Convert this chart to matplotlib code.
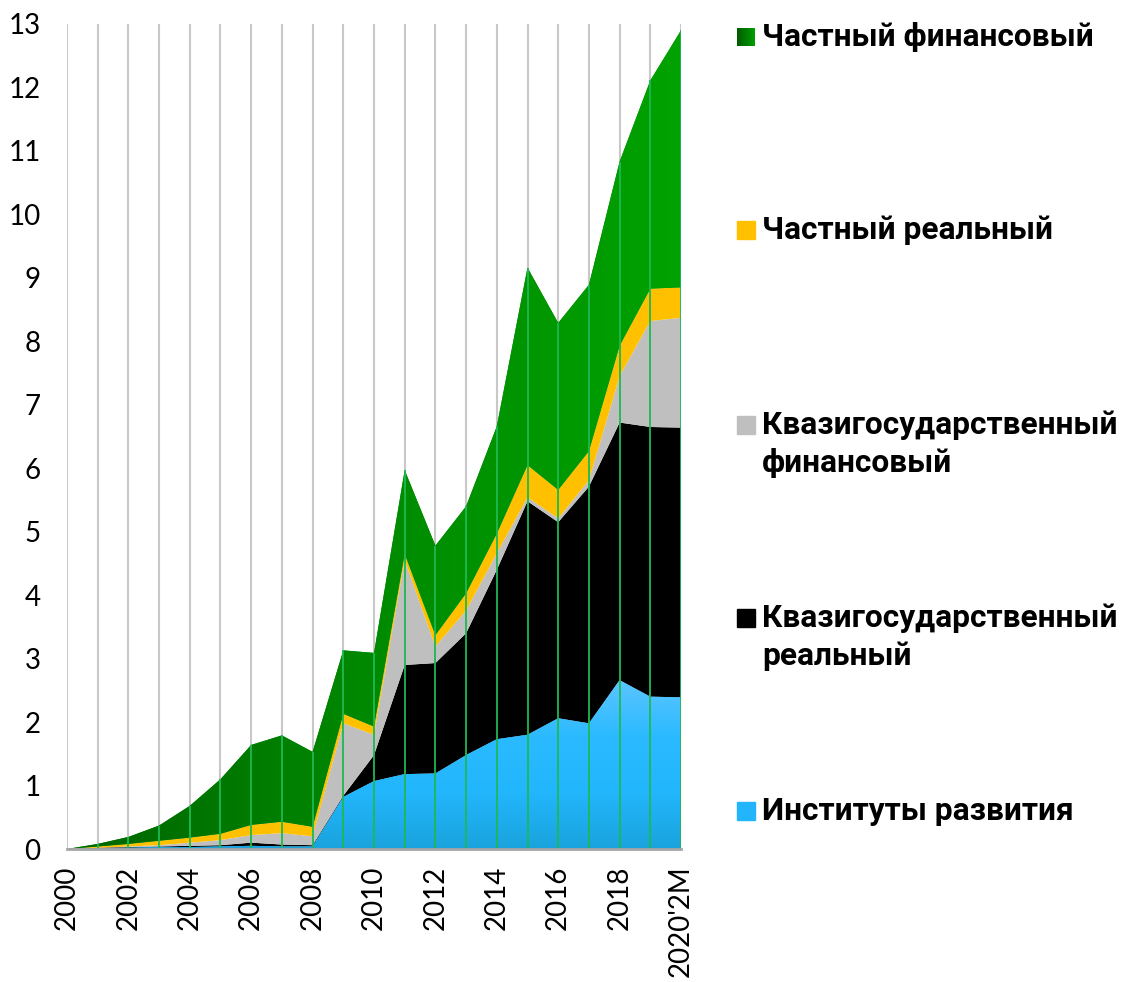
import numpy as np
import matplotlib
matplotlib.use("Agg")
import matplotlib.pyplot as plt
from matplotlib.colors import LinearSegmentedColormap

# data (bn)
years = ["2000", "2001", "2002", "2003", "2004", "2005", "2006", "2007", "2008", "2009",
         "2010", "2011", "2012", "2013", "2014", "2015", "2016", "2017", "2018", "2019",
         "2020'2M"]
instituty = [0, 0.01, 0.02, 0.03, 0.03, 0.04, 0.05, 0.04, 0.04, 0.82, 1.07, 1.18, 1.19,
             1.48, 1.73, 1.80, 2.06, 1.98, 2.66, 2.40, 2.39]
kvazi_real = [0, 0.01, 0.01, 0.01, 0.02, 0.02, 0.05, 0.03, 0.02, 0.02, 0.41, 1.72, 1.74,
              1.92, 2.67, 3.68, 3.09, 3.73, 4.06, 4.25, 4.25]
kvazi_fin = [0, 0.00, 0.01, 0.02, 0.05, 0.08, 0.12, 0.18, 0.14, 1.14, 0.32, 1.65, 0.26,
             0.36, 0.26, 0.06, 0.06, 0.10, 0.73, 1.67, 1.73]
chast_real = [0, 0.02, 0.04, 0.07, 0.08, 0.10, 0.16, 0.18, 0.15, 0.15, 0.13, 0.10, 0.18,
              0.27, 0.31, 0.51, 0.45, 0.46, 0.48, 0.51, 0.48]
chast_fin = [0, 0.04, 0.11, 0.24, 0.50, 0.86, 1.26, 1.36, 1.18, 1.00, 1.16, 1.32, 1.41,
             1.37, 1.69, 3.11, 2.63, 2.62, 2.90, 3.28, 4.05]

labels = ["Институты развития", "Квазигосударственный\nреальный",
          "Квазигосударственный\nфинансовый", "Частный реальный", "Частный финансовый"]
colors = ["#22b5fb", "#000000", "#bfbfbf", "#ffc000", "#009000"]
yticks = list(range(0, 14))

x = np.arange(len(years))
series = [instituty, kvazi_real, kvazi_fin, chast_real, chast_fin]
total = np.sum(series, axis=0)

W, H = 1132, 982
fig = plt.figure(figsize=(W / 100, H / 100), dpi=100)
ax = fig.add_axes([67 / W, 1 - 849 / H, 614 / W, 825 / H])

# grey background gridlines
ax.vlines(x, 0, 13, colors="#c8c8c8", lw=1.5, zorder=0)

polys = ax.stackplot(x, *series, colors=colors, zorder=1, lw=0)

# gradient fills: blue vertical, green horizontal
blue_cmap = LinearSegmentedColormap.from_list("b", ["#1aa3dd", "#22b6fc", "#2bbaff", "#5cc5ff"])
grad = np.linspace(0, 1, 256).reshape(-1, 1)
im = ax.imshow(grad, cmap=blue_cmap, origin="lower", aspect="auto",
               extent=[0, 20, 0, max(instituty)], zorder=1.5, interpolation="bicubic")
im.set_clip_path(polys[0].get_paths()[0], ax.transData)

green_cmap = LinearSegmentedColormap.from_list("g", ["#006400", "#008a00", "#00a200"])
gradh = np.linspace(0, 1, 256).reshape(1, -1)
im2 = ax.imshow(gradh, cmap=green_cmap, origin="lower", aspect="auto",
                extent=[0, 20, 0, 13], zorder=1.5, interpolation="bicubic")
im2.set_clip_path(polys[4].get_paths()[0], ax.transData)

# green drop lines inside the filled area
ax.vlines(x, 0, total, colors="#1db954", lw=1.3, zorder=3)

ax.set_xlim(0, 20)
ax.set_ylim(0, 13)
ax.set_yticks(yticks)
ax.set_yticklabels([str(t) for t in yticks], fontsize=20, family="Lato")
ax.set_xticks(x[::2])
ax.set_xticklabels(years[::2], rotation=90, fontsize=20, family="Lato", va="top")
ax.tick_params(axis="y", length=0, pad=19)
ax.tick_params(axis="x", length=0, pad=12)
for s in ["top", "right", "left"]:
    ax.spines[s].set_visible(False)
ax.spines["bottom"].set_color("#a6a6a6")
ax.spines["bottom"].set_linewidth(2)
ax.spines["bottom"].set_zorder(4)

# legend on the right, top entry first
leg_y = [37, 230, 425, 618, 811]
for i, lab in enumerate(labels[::-1]):
    yc = leg_y[i]
    col = colors[::-1][i]
    if i == 0:
        lax = fig.add_axes([737 / W, 1 - (yc + 9) / H, 18 / W, 18 / H])
        lax.imshow(gradh, cmap=LinearSegmentedColormap.from_list("gl", ["#005a00", "#00a000"]),
                   aspect="auto")
        lax.axis("off")
    else:
        fig.patches.append(plt.Rectangle((737 / W, 1 - (yc + 9) / H), 18 / W, 18 / H,
                                         transform=fig.transFigure, color=col))
    for j, line in enumerate(lab.split("\n")):
        fig.text(762 / W, 1 - (yc + j * 38) / H, line, fontsize=22.8, fontweight="bold",
                 family="Roboto", va="center", ha="left")

fig.savefig("out.png", dpi=100)
